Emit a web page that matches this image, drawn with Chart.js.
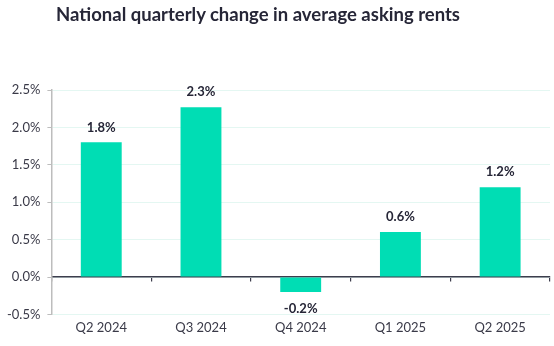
<!DOCTYPE html>
<html>
<head>
<meta charset="utf-8">
<script src="https://cdn.jsdelivr.net/npm/chart.js@4/dist/chart.umd.min.js"></script>
<style>
  html, body { margin: 0; padding: 0; background: #ffffff; }
  #wrap { width: 554px; height: 346px; position: relative; }
  #title {
    position: absolute; top: 2px; left: 0; width: 516px;
    text-align: center; margin: 0;
    font: bold 18.5px Lato, "Open Sans", sans-serif; color: #262637;
    line-height: 24px; white-space: nowrap;
  }
</style>
</head>
<body>
<div id="wrap">
  <h1 id="title">National quarterly change in average asking rents</h1>
  <canvas id="chart"></canvas>
</div>
<script>
// Quarterly change in average asking rents (%)
const quarters = ['Q2 2024', 'Q3 2024', 'Q4 2024', 'Q1 2025', 'Q2 2025'];
const rentChange = [1.8, 2.27, -0.2, 0.6, 1.2];
const yTicks = [-0.5, 0, 0.5, 1, 1.5, 2, 2.5];

const FONT = 'Lato, "Open Sans", sans-serif';
const INK = '#262637';
const BAR = '#00DDB4';

// Writes each bar's value above (or below, for negatives) the bar
const valueLabels = {
  id: 'valueLabels',
  afterDatasetsDraw(chart) {
    const ctx = chart.ctx;
    const meta = chart.getDatasetMeta(0);
    const data = chart.data.datasets[0].data;
    ctx.save();
    ctx.font = 'bold 13px ' + FONT;
    ctx.fillStyle = INK;
    ctx.textAlign = 'center';
    ctx.textBaseline = 'middle';
    meta.data.forEach((bar, i) => {
      const v = data[i];
      const y = v >= 0 ? bar.y - 15 : bar.y + 17;
      ctx.fillText(v.toFixed(1) + '%', bar.x, y);
    });
    ctx.restore();
  }
};

new Chart(document.getElementById('chart'), {
  type: 'bar',
  data: {
    labels: quarters,
    datasets: [{
      data: rentChange,
      backgroundColor: BAR,
      borderWidth: 0,
      barPercentage: 0.41,
      categoryPercentage: 1.0
    }]
  },
  options: {
    responsive: true,
    maintainAspectRatio: false,
    animation: false,
    layout: { padding: { left: 0, right: 4, top: 90, bottom: 4 } },
    plugins: {
      legend: { display: false },
      tooltip: { enabled: false },
      title: { display: false }
    },
    scales: {
      x: {
        type: 'category',
        grid: { display: false, drawTicks: false },
        border: { display: false },
        ticks: { color: '#3a3a48', font: { family: FONT, size: 13 }, padding: 6 }
      },
      xZero: {
        type: 'category',
        axis: 'x',
        labels: quarters,
        position: { y: 0 },
        offset: true,
        grid: {
          display: true,
          offset: true,
          drawOnChartArea: false,
          drawTicks: true,
          tickLength: 4,
          tickColor: '#3d3d4d',
          lineWidth: 1.2
        },
        border: { display: true, color: '#3d3d4d', width: 1.5 },
        ticks: { display: false }
      },
      y: {
        min: -0.5,
        max: 2.5,
        afterBuildTicks(scale) {
          scale.ticks = yTicks.map(v => ({ value: v }));
        },
        grid: {
          color: '#E4F7F2',
          tickColor: '#BDBDBD',
          tickLength: 4,
          lineWidth: 1
        },
        border: { display: true, color: '#BDBDBD', width: 1.5 },
        ticks: {
          color: '#3a3a48',
          font: { family: FONT, size: 13 },
          padding: 7,
          callback: v => Number(v).toFixed(1) + '%'
        }
      }
    }
  },
  plugins: [valueLabels]
});
</script>
</body>
</html>
